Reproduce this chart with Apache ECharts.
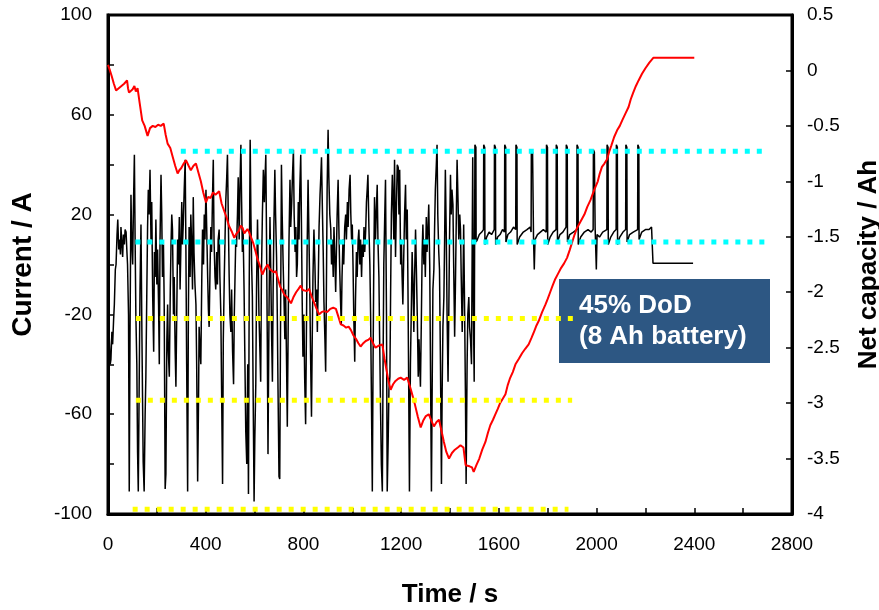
<!DOCTYPE html>
<html>
<head>
<meta charset="utf-8">
<script src="https://cdn.jsdelivr.net/npm/echarts@6/dist/echarts.min.js"></script>
<style>
  html, body { margin: 0; padding: 0; background: #fff; }
  #chart { width: 879px; height: 610px; }
</style>
</head>
<body>
<div id="chart"></div>
<script>
// current trace, [time s, current A]
const currentData = [
  [0,-35],[5,-29],[9,-40],[12,-38],[16,-27],[19,-32],[23,-22],[26,-16],[30,-2],[33,0],[37,12],[40,18],[44,6],[47,10],[51,4],[53,15],[57,8],[60,3],[63,12],[67,8],[70,14],[74,13],[77,6],[80,0],
  [84,-20],[87,-91],[90,-30],[94,28],[97,10],[101,0],[104,22],[108,44],[111,10],[114,-20],[118,-40],[121,-75],[124,-91],[128,-44],[131,-10],[135,16],[139,-30],[144,-79],[148,-91],[152,-60],[155,-45],[159,-10],
  [162,15],[165,30],[168,20],[172,38],[176,10],[179,25],[183,-13],[187,-35],[190,5],[193,-5],[196,18],[200,-8],[203,6],[207,-16],[210,-40],[213,10],[217,36],[220,20],[223,-5],[227,8],[230,-15],[234,-90],[237,-84],
  [241,-30],[244,-16],[247,-35],[251,-45],[255,-10],[258,8],[261,20],[264,14],[268,-20],[271,-5],[275,-35],[278,-49],[282,-15],[285,10],[288,0],[292,19],[295,-10],[298,5],[302,25],[305,8],[308,16],[312,30],
  [316,42],[319,5],[322,-40],[326,-91],[329,-20],[332,15],[336,-5],[339,20],[342,10],[346,-10],[349,27],[352,5],[356,-8],[360,-16],[363,-40],[367,-87],[370,-60],[373,-25],[377,-35],[380,-40],[384,-5],[387,14],
  [391,0],[394,20],[397,10],[401,30],[404,15],[408,-5],[411,-18],[414,-25],[418,0],[421,15],[424,5],[428,28],[431,42],[434,10],[438,-5],[441,-10],[445,5],[448,-8],[451,10],[455,14],[458,-5],[462,-20],[465,-50],
  [469,-88],[472,-30],[476,-5],[479,10],[482,25],[486,35],[489,44],[493,15],[496,-5],[499,-20],[503,-27],[506,-10],[510,-35],[514,-48],[517,-20],[520,-5],[523,10],[526,7],[530,20],[533,35],[537,10],[540,30],
  [544,48],[547,25],[550,5],[553,14],[557,-10],[560,-35],[564,-67],[568,-80],[572,-40],[575,-92],[578,-10],[582,50],[585,20],[588,0],[591,-13],[594,-50],[598,-95],[601,-70],[605,-48],[608,-10],[612,18],[615,0],
  [618,-20],[622,-35],[625,-47],[628,-5],[632,20],[636,38],[640,25],[643,35],[646,44],[649,10],[652,-30],[655,-76],[659,-20],[663,19],[666,0],[670,-30],[673,-47],[676,-10],[679,15],[683,38],[686,20],[690,3],
  [693,-20],[696,-50],[700,-85],[703,-86],[706,-30],[710,40],[713,20],[717,0],[721,-16],[724,-30],[727,-10],[731,-40],[734,-65],[738,-20],[741,10],[745,34],[748,15],[752,25],[755,35],[759,46],[762,20],[766,5],
  [769,15],[772,-5],[775,0],[779,25],[782,10],[785,30],[789,44],[792,15],[795,-15],[798,-37],[802,-20],[805,-45],[809,-64],[812,-30],[815,5],[819,34],[822,15],[826,-10],[829,-35],[833,-61],[836,-30],[839,-5],
  [843,14],[847,0],[850,-15],[854,-10],[857,-27],[861,-5],[864,15],[868,28],[871,35],[874,43],[878,20],[881,5],[884,-15],[888,-30],[891,-43],[894,-10],[897,30],[901,54],[904,35],[908,20],[912,14],[915,0],
  [918,10],[922,-5],[925,15],[928,5],[932,-11],[935,5],[938,20],[942,34],[945,15],[948,0],[952,-15],[955,-24],[958,-5],[962,10],[965,0],[969,15],[973,20],[976,10],[980,25],[983,15],[987,30],[991,36],[994,20],
  [997,10],[1000,16],[1003,0],[1006,-20],[1010,-39],[1013,-15],[1017,5],[1020,-5],[1024,10],[1027,14],[1031,0],[1034,10],[1038,-5],[1041,8],[1045,3],[1048,15],[1051,5],[1055,14],[1058,25],[1061,30],[1064,36],
  [1068,15],[1072,0],[1075,-20],[1078,-50],[1082,-91],[1085,-40],[1088,0],[1091,27],[1095,10],[1098,20],[1102,32],[1105,10],[1109,-5],[1112,-30],[1116,-60],[1119,-80],[1123,-91],[1126,-40],[1129,0],[1133,20],
  [1136,34],[1140,-20],[1143,-91],[1147,-70],[1150,-50],[1154,-45],[1157,-10],[1160,20],[1164,36],[1167,25],[1170,10],[1173,42],[1177,3],[1180,20],[1184,40],[1188,39],[1191,20],[1194,38],[1198,0],[1201,10],
  [1204,-5],[1207,-16],[1211,5],[1214,20],[1218,32],[1221,10],[1225,22],[1228,-10],[1231,-50],[1234,-91],[1238,-40],[1242,-16],[1245,5],[1249,-10],[1252,-27],[1255,-5],[1259,14],[1262,0],[1266,-20],[1270,-45],
  [1273,-30],[1276,-40],[1279,-49],[1283,-20],[1286,5],[1289,16],[1293,0],[1296,10],[1299,-5],[1303,19],[1306,5],[1310,15],[1313,24],[1317,0],[1320,-40],[1324,-91],[1327,-50],[1330,-10],[1334,-2],[1337,15],
  [1340,30],[1344,40],[1347,48],[1350,20],[1354,5],[1357,-2],[1361,-40],[1365,-88],[1368,-50],[1371,-25],[1375,-13],[1378,10],[1381,38],[1385,10],[1388,-20],[1392,-47],[1395,-20],[1398,10],[1402,36],[1405,20],
  [1408,30],[1412,24],[1415,0],[1419,-29],[1422,-10],[1426,20],[1429,42],[1433,25],[1436,10],[1440,20],[1443,14],[1446,-5],[1450,-27],[1453,-10],[1456,16],[1460,-20],[1463,-50],[1466,-88],[1470,-40],[1473,-20],
  [1477,-13],[1480,-25],[1484,-30],[1488,-40],[1491,10],[1493,43],[1496,-20],[1499,-47],
  [1502,48],[1506,47],[1507,9],[1512,10],[1520,12],[1530,13],[1537,14],
  [1538,48],[1542,47],[1543,8],[1550,11],[1560,13],[1570,12],[1581,14],
  [1582,48],[1586,47],[1587,8],[1595,11],[1605,12],[1615,14],[1623,13],
  [1624,48],[1628,47],[1629,9],[1637,12],[1648,13],[1660,15],[1669,14],
  [1670,48],[1674,47],[1675,8],[1685,11],[1700,13],[1715,14],[1728,15],[1732,13],
  [1733,46],[1738,45],[1742,10],[1745,-2],[1748,10],[1758,12],[1770,13],[1782,14],[1794,13],
  [1795,48],[1799,47],[1800,8],[1810,11],[1822,13],[1834,14],
  [1835,48],[1839,47],[1840,9],[1850,12],[1862,13],[1875,15],
  [1876,48],[1880,47],[1881,9],[1890,12],[1905,13],[1919,14],
  [1920,48],[1924,47],[1925,8],[1935,11],[1950,13],[1965,14],[1978,13],[1986,14],
  [1987,46],[1991,45],[1994,15],[1999,-2],[2002,12],[2012,11],[2025,13],[2042,14],
  [2043,48],[2047,47],[2048,8],[2058,11],[2070,13],[2080,14],
  [2081,48],[2085,47],[2086,8],[2095,11],[2108,13],[2119,14],
  [2120,48],[2124,47],[2125,9],[2135,12],[2150,13],[2168,14],
  [2169,48],[2173,47],[2174,10],[2185,13],[2200,14],[2215,14],[2225,15],[2230,15],
  [2231,0.5],[2395,0.5]
];

// net capacity, [time s, Ah]
const capacityData = [
  [0,0.05],[8,0.0],[15,-0.05],[24,-0.12],[33,-0.18],[44,-0.16],[55,-0.14],[66,-0.12],[78,-0.09],[82,-0.16],[86,-0.2],[94,-0.21],[101,-0.17],[108,-0.14],[114,-0.19],[121,-0.16],[130,-0.3],[140,-0.45],
  [150,-0.5],[162,-0.59],[172,-0.52],[183,-0.5],[194,-0.51],[205,-0.49],[216,-0.5],[228,-0.48],[236,-0.58],[244,-0.66],[255,-0.7],[265,-0.78],[275,-0.86],[285,-0.93],[292,-0.9],[300,-0.88],[310,-0.84],
  [319,-0.81],[330,-0.86],[339,-0.9],[350,-0.86],[360,-0.84],[370,-0.92],[380,-1.0],[390,-1.1],[401,-1.19],[410,-1.14],[420,-1.15],[430,-1.1],[440,-1.12],[455,-1.09],[465,-1.2],[476,-1.27],[486,-1.33],
  [495,-1.4],[506,-1.45],[517,-1.51],[526,-1.47],[535,-1.45],[543,-1.4],[551,-1.42],[558,-1.47],[565,-1.48],[571,-1.43],[578,-1.46],[585,-1.45],[595,-1.56],[605,-1.64],[612,-1.7],[620,-1.75],[632,-1.84],
  [642,-1.79],[653,-1.75],[662,-1.79],[670,-1.78],[678,-1.82],[687,-1.81],[696,-1.88],[705,-1.95],[713,-1.98],[721,-2.02],[735,-2.05],[749,-2.1],[760,-2.04],[770,-2.0],[780,-1.97],[789,-1.94],[797,-1.98],
  [805,-1.97],[814,-1.99],[823,-1.97],[834,-2.04],[845,-2.1],[854,-2.15],[864,-2.2],[874,-2.18],[885,-2.17],[897,-2.18],[910,-2.15],[922,-2.14],[933,-2.15],[943,-2.22],[953,-2.29],[964,-2.3],[975,-2.32],
  [985,-2.31],[994,-2.34],[1005,-2.39],[1015,-2.42],[1025,-2.46],[1034,-2.49],[1045,-2.46],[1055,-2.44],[1065,-2.43],[1075,-2.41],[1085,-2.46],[1095,-2.5],[1110,-2.48],[1123,-2.47],[1132,-2.6],[1140,-2.7],
  [1148,-2.8],[1157,-2.88],[1167,-2.83],[1177,-2.8],[1188,-2.78],[1198,-2.77],[1212,-2.79],[1225,-2.77],[1240,-2.88],[1255,-3.0],[1268,-3.12],[1280,-3.22],[1290,-3.16],[1300,-3.12],[1313,-3.1],[1324,-3.16],
  [1334,-3.21],[1345,-3.17],[1355,-3.15],[1365,-3.25],[1375,-3.35],[1385,-3.44],[1396,-3.5],[1408,-3.45],[1420,-3.42],[1432,-3.4],[1443,-3.38],[1455,-3.4],[1464,-3.56],[1472,-3.56],[1480,-3.57],[1490,-3.58],
  [1497,-3.62],[1508,-3.56],[1520,-3.5],[1532,-3.42],[1545,-3.35],[1555,-3.27],[1565,-3.2],[1576,-3.15],[1586,-3.1],[1596,-3.05],[1605,-3.0],[1616,-2.96],[1627,-2.92],[1636,-2.84],[1645,-2.78],[1657,-2.72],
  [1668,-2.65],[1682,-2.6],[1695,-2.55],[1708,-2.51],[1722,-2.47],[1734,-2.41],[1745,-2.35],[1754,-2.3],[1763,-2.26],[1777,-2.18],[1791,-2.11],[1800,-2.06],[1810,-2.0],[1820,-1.94],[1831,-1.88],[1843,-1.83],
  [1855,-1.78],[1867,-1.74],[1879,-1.69],[1890,-1.62],[1900,-1.55],[1910,-1.48],[1920,-1.42],[1935,-1.36],[1950,-1.3],[1962,-1.23],[1975,-1.17],[1990,-1.08],[2005,-1.0],[2013,-0.93],[2022,-0.87],[2032,-0.84],
  [2043,-0.8],[2052,-0.73],[2060,-0.68],[2072,-0.6],[2084,-0.54],[2095,-0.5],[2105,-0.45],[2118,-0.39],[2131,-0.33],[2140,-0.26],[2150,-0.2],[2161,-0.14],[2172,-0.09],[2186,-0.03],[2200,0.02],[2216,0.07],
  [2233,0.115],[2400,0.115]
];

// dotted reference levels (current axis)
const refLevels = [45.4, 9.0, -21.6, -54.4, -98.1];
const refStart = [298, 112, 114, 114, 101];
const refEnd = [2702, 2690, 1905, 1900, 1885];
const refKind = ['cyan', 'cyan', 'yellow', 'yellow', 'yellow'];

const noteLines = ['45% DoD', '(8 Ah battery)'];

const font = "'Liberation Sans', Arial, sans-serif";
const labelStyle = { color: '#000', fontSize: 19, fontFamily: font };
const nameStyle = { color: '#000', fontSize: 26, fontWeight: 'bold', fontFamily: font };

const refSeries = refLevels.map((lvl, i) => ({
  type: 'line',
  yAxisIndex: 0,
  data: [[refStart[i], lvl], [refEnd[i], lvl]],
  symbol: 'none',
  silent: true,
  z: 5,
  lineStyle: {
    color: refKind[i] === 'cyan' ? '#00FFFF' : '#FFFF00',
    width: 5,
    type: [5, 7],
    cap: 'butt'
  }
}));

const chart = echarts.init(document.getElementById('chart'), null, { renderer: 'canvas' });

chart.setOption({
  animation: false,
  backgroundColor: '#fff',
  grid: {
    left: 108, right: 87, top: 15, bottom: 96,
    outerBoundsMode: 'none',
    containLabel: false,
    show: true, borderColor: '#000', borderWidth: 3
  },
  xAxis: {
    type: 'value',
    min: 0, max: 2800, interval: 200,
    name: 'Time / s',
    nameLocation: 'middle',
    nameGap: 68,
    nameTextStyle: nameStyle,
    axisLine: { onZero: false, lineStyle: { color: '#000', width: 3 } },
    axisTick: { inside: true, length: 6, lineStyle: { color: '#000', width: 1.5 } },
    axisLabel: Object.assign({ margin: 21, formatter: v => (v % 400 === 0 ? String(v) : '') }, labelStyle),
    splitLine: { show: false }
  },
  yAxis: [
    {
      type: 'value',
      min: -100, max: 100, interval: 20,
      name: 'Current / A',
      nameLocation: 'middle',
      nameGap: 71,
      nameRotate: 90,
      nameTextStyle: Object.assign({}, nameStyle, { fontSize: 28 }),
      axisLine: { show: true, onZero: false, lineStyle: { color: '#000', width: 3 } },
      axisTick: { inside: true, length: 6, lineStyle: { color: '#000', width: 1.5 } },
      axisLabel: Object.assign({ margin: 16, formatter: v => ((v + 100) % 40 === 0 ? String(v) : '') }, labelStyle),
      splitLine: { show: false }
    },
    {
      type: 'value',
      position: 'right',
      min: -4, max: 0.5, interval: 0.5,
      name: 'Net capacity / Ah',
      nameLocation: 'middle',
      nameGap: 64,
      nameRotate: 90,
      nameTextStyle: nameStyle,
      axisLine: { show: true, onZero: false, lineStyle: { color: '#000', width: 3 } },
      axisTick: { inside: true, length: 6, lineStyle: { color: '#000', width: 1.5 } },
      axisLabel: Object.assign({ margin: 15 }, labelStyle),
      splitLine: { show: false }
    }
  ],
  series: [
    {
      name: 'Current',
      type: 'line',
      yAxisIndex: 0,
      data: currentData,
      symbol: 'none',
      z: 2,
      lineStyle: { color: '#000', width: 1.5 }
    },
    {
      name: 'Net capacity',
      type: 'line',
      yAxisIndex: 1,
      data: capacityData,
      symbol: 'none',
      z: 3,
      lineStyle: { color: '#FF0000', width: 2 }
    }
  ].concat(refSeries),
  graphic: [
    {
      type: 'group',
      left: 559, top: 279,
      z: 100,
      children: [
        { type: 'rect', shape: { x: 0, y: 0, width: 211, height: 84 }, style: { fill: '#2D5783' } },
        { type: 'text', x: 20, y: 27, style: { text: noteLines[0], fill: '#fff', font: 'bold 26px ' + font, textVerticalAlign: 'middle' } },
        { type: 'text', x: 20, y: 58, style: { text: noteLines[1], fill: '#fff', font: 'bold 26px ' + font, textVerticalAlign: 'middle' } }
      ]
    }
  ]
});
</script>
</body>
</html>
